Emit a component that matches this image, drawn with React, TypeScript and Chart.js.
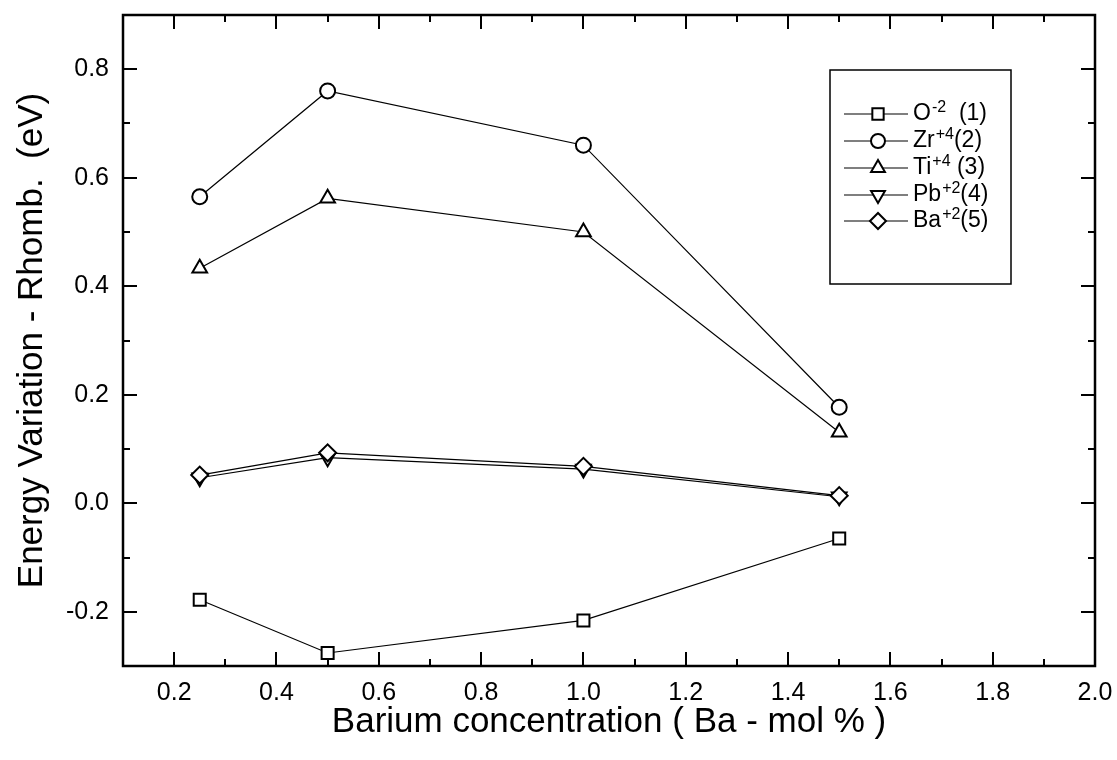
import React, { useEffect, useRef } from 'react';
import { Chart, registerables } from 'chart.js';
import { drawPoint } from 'chart.js/helpers';

Chart.register(...registerables);

const FONT = '"Liberation Sans", Arial, Helvetica, sans-serif';

// ---- data ----
const xValues = [0.25, 0.5, 1.0, 1.5];
const oxygen = [-0.178, -0.276, -0.216, -0.065];
const zirconium = [0.565, 0.76, 0.66, 0.177];
const titanium = [0.433, 0.562, 0.5, 0.131];
const lead = [0.047, 0.084, 0.063, 0.012];
const barium = [0.052, 0.093, 0.068, 0.014];

// ---- axes ----
const xMajorTicks = [0.2, 0.4, 0.6, 0.8, 1.0, 1.2, 1.4, 1.6, 1.8, 2.0];
const xMinorTicks = [0.3, 0.5, 0.7, 0.9, 1.1, 1.3, 1.5, 1.7, 1.9];
const yMajorTicks = [-0.2, 0.0, 0.2, 0.4, 0.6, 0.8];
const yMinorTicks = [-0.1, 0.1, 0.3, 0.5, 0.7];

const xTitle = 'Barium concentration ( Ba - mol % )';
const yTitle = 'Energy Variation - Rhomb.  (eV)';

// ---- legend ----
const seriesBase = ['O', 'Zr', 'Ti', 'Pb', 'Ba'];
const seriesSup = ['-2', '+4', '+4', '+2', '+2'];
const seriesTail = ['  (1)', '(2)', ' (3)', '(4)', '(5)'];
const seriesStyle = ['rect', 'circle', 'triangle', 'triangle', 'rectRot'];
const seriesRotation = [0, 0, 0, 180, 0];
const seriesRadius = [8.5, 7.5, 8.5, 8.5, 8.5];
const seriesValues = [oxygen, zirconium, titanium, lead, barium];
const seriesOrder = [4, 3, 2, 1, 0];

const CANVAS_W = 1117;
const CANVAS_H = 760;

const frameTicksPlugin = {
  id: 'frameTicks',
  afterDatasetsDraw(chart: any) {
    const { ctx, chartArea: a, scales } = chart;
    const xs = scales.x;
    const ys = scales.y;
    ctx.save();
    ctx.strokeStyle = '#000';
    ctx.lineWidth = 2.5;
    ctx.strokeRect(a.left, a.top, a.right - a.left, a.bottom - a.top);
    const major = 14;
    const minor = 7;
    ctx.lineWidth = 2;
    ctx.beginPath();
    const xt = (vals: number[], len: number) => {
      vals.forEach((v) => {
        const px = Math.round(xs.getPixelForValue(v));
        ctx.moveTo(px, a.bottom);
        ctx.lineTo(px, a.bottom - len);
        ctx.moveTo(px, a.top);
        ctx.lineTo(px, a.top + len);
      });
    };
    const yt = (vals: number[], len: number) => {
      vals.forEach((v) => {
        const py = Math.round(ys.getPixelForValue(v));
        ctx.moveTo(a.left, py);
        ctx.lineTo(a.left + len, py);
        ctx.moveTo(a.right, py);
        ctx.lineTo(a.right - len, py);
      });
    };
    xt(xMajorTicks, major);
    xt(xMinorTicks, minor);
    yt(yMajorTicks, major);
    yt(yMinorTicks, minor);
    ctx.stroke();
    ctx.restore();
  },
};

const legendPlugin = {
  id: 'customLegend',
  afterDraw(chart: any) {
    const { ctx } = chart;
    const box = { left: 830, top: 70, right: 1011, bottom: 284 };
    const rowY = [114, 141, 168, 195, 221];
    ctx.save();
    ctx.strokeStyle = '#000';
    ctx.lineWidth = 1.5;
    ctx.strokeRect(box.left, box.top, box.right - box.left, box.bottom - box.top);
    seriesBase.forEach((base, i) => {
      const y = rowY[i];
      ctx.strokeStyle = '#000';
      ctx.lineWidth = 1.2;
      ctx.beginPath();
      ctx.moveTo(box.left + 14, y);
      ctx.lineTo(box.left + 78, y);
      ctx.stroke();
      ctx.fillStyle = '#fff';
      ctx.lineWidth = 2;
      drawPoint(
        ctx,
        {
          pointStyle: seriesStyle[i],
          radius: seriesRadius[i] - 0.5,
          rotation: seriesRotation[i],
          borderWidth: 2,
        } as any,
        box.left + 48,
        y,
      );
      ctx.fillStyle = '#000';
      ctx.textBaseline = 'middle';
      ctx.textAlign = 'left';
      let tx = box.left + 83;
      ctx.font = `23px ${FONT}`;
      ctx.fillText(base, tx, y);
      tx += ctx.measureText(base).width + 1;
      ctx.font = `16px ${FONT}`;
      ctx.fillText(seriesSup[i], tx, y - 6);
      tx += ctx.measureText(seriesSup[i]).width;
      ctx.font = `23px ${FONT}`;
      ctx.fillText(seriesTail[i], tx, y);
    });
    ctx.restore();
  },
};

export default function App() {
  const canvasRef = useRef<HTMLCanvasElement | null>(null);

  useEffect(() => {
    if (!canvasRef.current) return;
    Chart.defaults.font.family = FONT;
    Chart.defaults.color = '#000';
    const datasets = seriesBase.map((name, i) => ({
      label: name + seriesSup[i] + seriesTail[i],
      data: xValues.map((x, j) => ({ x, y: seriesValues[i][j] })),
      showLine: true,
      borderColor: '#000',
      borderWidth: 1.2,
      pointStyle: seriesStyle[i],
      pointRotation: seriesRotation[i],
      pointRadius: seriesRadius[i],
      pointBorderWidth: 2,
      pointBorderColor: '#000',
      pointBackgroundColor: '#fff',
      backgroundColor: '#fff',
      order: seriesOrder[i],
      tension: 0,
    }));
    const chart = new Chart(canvasRef.current, {
      type: 'scatter',
      data: { datasets },
      options: {
        animation: false,
        responsive: false,
        devicePixelRatio: 1,
        layout: { padding: { top: 15, right: 22, left: 8, bottom: 8 } },
        plugins: {
          legend: { display: false },
          tooltip: { enabled: false },
        },
        scales: {
          x: {
            type: 'linear',
            min: 0.1,
            max: 2.0,
            afterBuildTicks: (s: any) => {
              s.ticks = xMajorTicks.map((v) => ({ value: v }));
            },
            afterFit: (s: any) => {
              s.height = 86;
              s.paddingLeft = 0;
              s.paddingRight = 0;
            },
            ticks: {
              callback: (v: any) => Number(v).toFixed(1),
              font: { size: 25, family: FONT },
              color: '#000',
              padding: 12,
              autoSkip: false,
              maxRotation: 0,
            },
            grid: { display: false, drawTicks: false },
            border: { display: false },
            title: {
              display: true,
              text: xTitle,
              font: { size: 35, family: FONT },
              color: '#000',
              padding: { top: 0, bottom: 9 },
            },
          },
          y: {
            type: 'linear',
            min: -0.3,
            max: 0.9,
            afterBuildTicks: (s: any) => {
              s.ticks = yMajorTicks.map((v) => ({ value: v }));
            },
            afterFit: (s: any) => {
              s.width = 115;
              s.paddingTop = 0;
              s.paddingBottom = 0;
            },
            ticks: {
              callback: (v: any) => Number(v).toFixed(1),
              font: { size: 25, family: FONT },
              color: '#000',
              padding: 14,
              autoSkip: false,
            },
            grid: { display: false, drawTicks: false },
            border: { display: false },
            title: {
              display: true,
              text: yTitle,
              font: { size: 35, family: FONT },
              color: '#000',
              padding: { top: 3, bottom: 0 },
            },
          },
        },
      } as any,
      plugins: [frameTicksPlugin, legendPlugin],
    });
    return () => chart.destroy();
  }, []);

  return (
    <div style={{ position: 'fixed', left: 0, top: 0, width: CANVAS_W, height: CANVAS_H }}>
      <canvas
        ref={canvasRef}
        width={CANVAS_W}
        height={CANVAS_H}
        style={{ display: 'block', width: CANVAS_W, height: CANVAS_H }}
      />
    </div>
  );
}
